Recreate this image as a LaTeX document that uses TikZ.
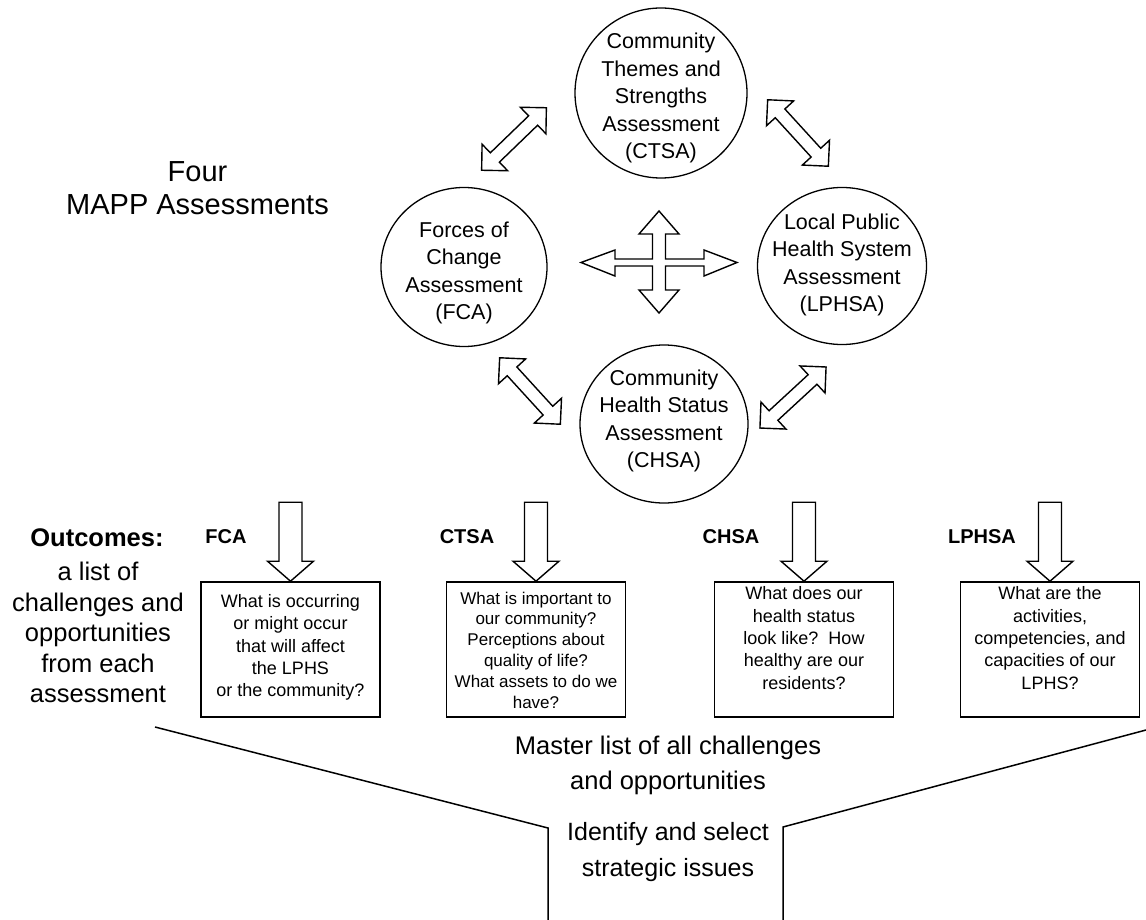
\documentclass[tikz,border=0pt]{standalone}
\usepackage{fontspec}
\setmainfont{Liberation Sans}
\usetikzlibrary{shapes.geometric}
\tikzset{
  assess/.style={ellipse, draw, line width=1.3pt, inner sep=0pt},
  asstext/.style={align=center, inner sep=0pt, font=\fontsize{21.5}{27.5}\selectfont},
  qbox/.style={draw, line width=1.6pt, minimum width=179pt, minimum height=135pt, inner sep=0pt},
  qtext/.style={align=center, inner sep=0pt, font=\fontsize{18}{22.3}\selectfont},
  blockarrow/.style={draw, line width=1.4pt, fill=white, line join=miter},
  lbl/.style={font=\bfseries\fontsize{20}{24}\selectfont, inner sep=0pt},
  bigtext/.style={align=center, inner sep=0pt, font=\fontsize{25.5}{35}\selectfont},
  funnel/.style={line width=1.5pt}
}
\newcommand{\dblarr}[2]{%
  \begin{scope}[shift={(#1)}, rotate=#2]
    \draw[blockarrow] (45,0) -- (26.6,18.4) -- (26.6,6.5) -- (-26.6,6.5) -- (-26.6,18.4)
      -- (-45,0) -- (-26.6,-18.4) -- (-26.6,-6.5) -- (26.6,-6.5) -- (26.6,-18.4) -- cycle;
  \end{scope}}
\newcommand{\downarr}[1]{%
  \begin{scope}[shift={(#1)}]
    \draw[blockarrow] (0,0) -- (23,-20) -- (11.5,-20) -- (11.5,-79) -- (-11.5,-79)
      -- (-11.5,-20) -- (-23,-20) -- cycle;
  \end{scope}}
\begin{document}
\begin{tikzpicture}[x=1pt,y=-1pt]
\useasboundingbox[fill=white] (0,0) rectangle (1146,920);

% title
\node[align=center, inner sep=0pt, font=\fontsize{29}{33}\selectfont] (four) at (197.5,188.5) {Four\\MAPP Assessments};

% assessment circles
\node[assess, minimum width=172pt, minimum height=170pt] (ctsa) at (661,93) {};
\node[asstext] (ctsa-t) at (661,98) {Community\\Themes and\\Strengths\\Assessment\\(CTSA)};
\node[assess, minimum width=166pt, minimum height=159pt] (fca) at (464,267) {};
\node[asstext] (fca-t) at (464,273) {Forces of\\Change\\Assessment\\(FCA)};
\node[assess, minimum width=169pt, minimum height=157pt] (lphsa) at (842,266) {};
\node[asstext] (lphsa-t) at (842,265) {Local Public\\Health System\\Assessment\\(LPHSA)};
\node[assess, minimum width=168pt, minimum height=158pt] (chsa) at (664,424) {};
\node[asstext] (chsa-t) at (664,421) {Community\\Health Status\\Assessment\\(CHSA)};

% diagonal double arrows
\coordinate (a1) at (514,139);
\coordinate (a2) at (798,133);
\coordinate (a3) at (530,391);
\coordinate (a4) at (793,397.5);
\dblarr{a1}{44}
\dblarr{a2}{-47.6}
\dblarr{a3}{-47.6}
\dblarr{a4}{42.7}

% central four-way arrow
\coordinate (cross) at (659,262);
\draw[blockarrow] (659,211) -- (679,234) -- (665.5,234) -- (665.5,259) -- (704,259) -- (704,250)
  -- (737,262.5) -- (704,276) -- (704,266) -- (665.5,266) -- (665.5,290) -- (679,290)
  -- (659,313) -- (639,290) -- (652.5,290) -- (652.5,266) -- (615,266) -- (615,276)
  -- (581,262.5) -- (615,250) -- (615,259) -- (652.5,259) -- (652.5,234) -- (639,234) -- cycle;

% outcomes text
\node[inner sep=0pt, font=\bfseries\fontsize{25.5}{30}\selectfont] (outc) at (97,538) {Outcomes:};
\node[align=center, inner sep=0pt, font=\fontsize{25.5}{30.5}\selectfont] (outl) at (98,632.5)
  {a list of\\challenges and\\opportunities\\from each\\assessment};

% question boxes
\node[qbox] (fcab) at (290.5,649.5) {};
\node[qbox] (ctsab) at (536,649.5) {};
\node[qbox] (chsab) at (804,649.5) {};
\node[qbox] (lphsab) at (1050,649.5) {};
\node[qtext] (fcab-t) at (290.5,647.5) {What is occurring\\or might occur\\that will affect\\the LPHS\\or the community?};
\node[qtext, font=\fontsize{17}{20.8}\selectfont] (ctsab-t) at (536,650) {What is important to\\our community?\\Perceptions about\\quality of life?\\What assets to do we\\have?};
\node[qtext] (chsab-t) at (804,638) {What does our\\health status\\look like?\ \ How\\healthy are our\\residents?};
\node[qtext] (lphsab-t) at (1050,638) {What are the\\activities,\\competencies, and\\capacities of our\\LPHS?};

% down arrows and labels
\downarr{fcab.north}
\downarr{ctsab.north}
\downarr{chsab.north}
\downarr{lphsab.north}
\node[lbl] (fcal) at (226,537) {FCA};
\node[lbl] (ctsal) at (467,537) {CTSA};
\node[lbl] (chsal) at (731,537) {CHSA};
\node[lbl] (lphsal) at (982,537) {LPHSA};

% master list and funnel
\node[bigtext] (master) at (668,765.5) {Master list of all challenges\\and opportunities};
\node[bigtext, font=\fontsize{25}{36}\selectfont] (ident) at (668,852) {Identify and select\\strategic issues};
\coordinate (fl0) at (155,727);
\coordinate (fl1) at (548,828);
\coordinate (fl2) at (548,920);
\coordinate (fr0) at (1146,730);
\coordinate (fr1) at (783,827);
\coordinate (fr2) at (783,920);
\draw[funnel] (fl0) -- (fl1) -- (fl2);
\draw[funnel] (fr0) -- (fr1) -- (fr2);
\end{tikzpicture}
\end{document}
